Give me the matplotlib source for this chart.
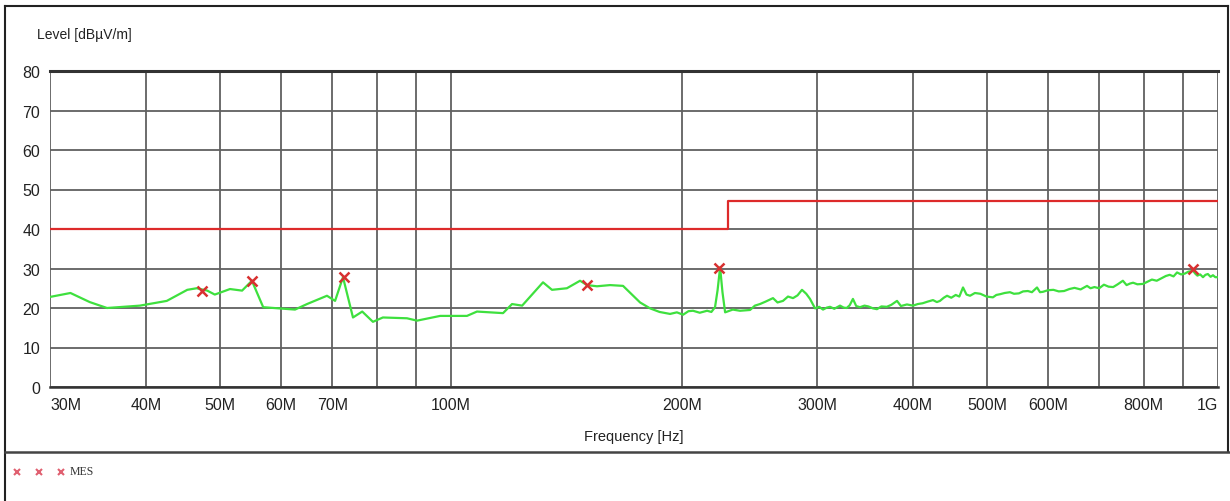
#!/usr/bin/env python3
"""Radiated emission scan 30 MHz - 1 GHz with limit line and MES markers."""

import matplotlib
matplotlib.use("Agg")
import matplotlib.pyplot as plt
from matplotlib.lines import Line2D
import numpy as np

plt.rcParams["font.family"] = ["Liberation Sans", "DejaVu Sans"]

# measured trace, frequency in MHz, level in dBuV/m
TRACE_MHZ = [
    30.0, 31.9, 33.8, 35.6, 39.3, 42.6, 45.3, 46.6, 48.1, 49.2, 51.5, 53.4,
    55.0, 56.9, 59.8, 62.6, 64.9, 68.9, 70.6, 72.3, 74.5, 76.6, 79.1, 81.5,
    87.6, 90.3, 96.8, 104.9, 108.1, 116.9, 120.1, 123.8, 131.8, 135.4, 141.6,
    147.3, 150.4, 155.0, 161.2, 167.6, 176.4, 181.8, 187.0, 193.0, 197.0,
    200.7, 204.0, 206.8, 211.0, 215.7, 218.5, 220.9, 222.6, 224.3, 225.9,
    227.7, 233.0, 238.1, 245.4, 249.0, 252.8, 257.0, 262.9, 266.5, 270.9,
    275.0, 279.2, 283.0, 286.8, 290.5, 293.8, 298.3, 302.0, 305.5, 309.0,
    312.0, 316.0, 321.5, 325.0, 328.0, 331.0, 334.2, 337.5, 341.3, 346.0,
    350.0, 355.0, 359.2, 364.0, 370.0, 375.0, 381.5, 386.0, 393.0, 400.3,
    406.0, 412.0, 418.0, 425.0, 430.0, 434.0, 439.0, 443.3, 449.0, 455.0,
    460.0, 465.1, 470.0, 475.0, 482.0, 490.0, 499.0, 508.8, 514.0, 520.0,
    527.0, 535.5, 542.0, 550.0, 557.0, 565.0, 572.0, 580.8, 586.0, 591.3,
    600.0, 610.0, 620.0, 630.0, 640.0, 650.0, 662.0, 674.9, 682.0, 690.0,
    700.0, 710.0, 720.0, 730.0, 740.0, 751.6, 760.0, 768.0, 775.0, 785.0,
    798.4, 808.0, 820.0, 832.0, 845.0, 855.0, 865.0, 875.0, 884.3, 895.0,
    905.0, 915.0, 927.8, 935.0, 940.0, 948.0, 955.9, 963.0, 970.0, 978.0,
    985.0, 992.0, 1000.0,
]
TRACE_DB = [
    22.8, 23.8, 21.5, 20.0, 20.6, 21.8, 24.6, 25.0, 24.4, 23.4, 24.8, 24.4,
    26.9, 20.2, 19.9, 19.6, 21.0, 23.1, 21.8, 27.8, 17.6, 19.1, 16.5, 17.6,
    17.4, 16.8, 18.0, 18.0, 19.1, 18.7, 21.0, 20.6, 26.5, 24.6, 25.0,
    26.9, 25.8, 25.5, 25.8, 25.6, 21.4, 19.9, 19.0, 18.5, 18.9,
    18.3, 19.2, 19.3, 18.8, 19.3, 19.0, 20.2, 24.5, 30.3, 24.0,
    18.9, 19.6, 19.3, 19.5, 20.6, 21.0, 21.6, 22.5, 21.4, 21.8,
    22.9, 22.5, 23.2, 24.6, 23.6, 22.3, 19.9, 20.3, 19.6, 20.1,
    20.3, 19.8, 20.6, 20.1, 20.0, 20.7, 22.3, 20.5, 20.2, 20.6,
    20.4, 19.9, 19.7, 20.4, 20.3, 20.8, 21.8, 20.5, 20.9, 20.6,
    21.0, 21.2, 21.6, 22.0, 21.5, 21.8, 22.6, 23.1, 22.6, 23.3,
    22.9, 25.2, 23.4, 23.1, 23.8, 23.6, 22.9, 22.7, 23.3, 23.5,
    23.8, 24.0, 23.6, 23.7, 24.2, 24.3, 24.0, 25.2, 24.0, 24.1,
    24.5, 24.6, 24.2, 24.3, 24.8, 25.1, 24.7, 25.6, 25.0, 25.3,
    25.0, 25.9, 25.4, 25.3, 26.0, 26.9, 25.8, 26.2, 26.4, 26.0,
    26.1, 26.6, 27.2, 26.9, 27.6, 28.1, 28.4, 28.0, 29.0, 28.5,
    28.7, 29.2, 29.4, 28.6, 28.2, 28.5, 27.8, 28.4, 28.6, 27.9,
    28.3, 27.8, 27.8,
]

# MES peak markers
PEAK_MHZ = [47.3, 55.0, 72.5, 150.4, 223.6, 927.8]
PEAK_DB = [24.3, 26.8, 27.8, 25.8, 30.1, 29.9]

# limit line (step at 230 MHz)
LIMIT_MHZ = [30.0, 230.0, 230.0, 1000.0]
LIMIT_DB = [40.0, 40.0, 47.0, 47.0]

Y_TICKS = [0, 10, 20, 30, 40, 50, 60, 70, 80]
X_TICKS_MHZ = [30, 40, 50, 60, 70, 100, 200, 300, 400, 500, 600, 800, 1000]
X_TICK_LABELS = ["30M", "40M", "50M", "60M", "70M", "100M", "200M", "300M",
                 "400M", "500M", "600M", "800M", "1G"]
GRID_MHZ = [30, 40, 50, 60, 70, 80, 90, 100, 200, 300, 400, 500, 600, 700,
            800, 900, 1000]

W, H = 1230, 502
fig = plt.figure(figsize=(W / 100, H / 100), dpi=100)
ax = fig.add_axes([50 / W, 1 - 388 / H, (1218 - 50) / W, (388 - 72) / H])

hz = lambda v: np.asarray(v, dtype=float) * 1e6

ax.set_xscale("log")
ax.set_xlim(30e6, 1e9)
ax.set_ylim(0, 80)

grid_c = "#606060"
for g in GRID_MHZ:
    ax.axvline(g * 1e6, color=grid_c, lw=1.3, zorder=1)
for yv in Y_TICKS:
    ax.axhline(yv, color=grid_c, lw=1.3, zorder=1)

ax.plot(hz(LIMIT_MHZ), LIMIT_DB, color="#dd2a2a", lw=1.6, zorder=3)
ax.plot(hz(TRACE_MHZ), TRACE_DB, color="#3ee03e", lw=1.6, zorder=4)
ax.plot(hz(PEAK_MHZ), PEAK_DB, ls="none", marker="x", ms=7, mew=1.8,
        color="#d83030", zorder=5)

ax.minorticks_off()
ax.set_xticks(hz(X_TICKS_MHZ))
ax.set_xticklabels(X_TICK_LABELS, fontsize=11.5)
for lab, t in zip(ax.get_xticklabels(), X_TICK_LABELS):
    if t == "30M":
        lab.set_ha("left")
    elif t == "1G":
        lab.set_ha("right")
ax.set_yticks(Y_TICKS)
ax.set_yticklabels([str(v) for v in Y_TICKS], fontsize=11.5)
ax.tick_params(length=0, pad=7, colors="#222222")

for side in ("left", "right"):
    ax.spines[side].set_visible(False)
ax.spines["top"].set_linewidth(2.2)
ax.spines["top"].set_color("#333333")
ax.spines["bottom"].set_linewidth(1.8)
ax.spines["bottom"].set_color("#333333")

fig.text(37 / W, 1 - 35 / H, "Level [dB\u00b5V/m]", fontsize=10, va="center",
         ha="left", color="#222222")
fig.text(634 / W, 1 - 437 / H, "Frequency [Hz]", fontsize=10.5, va="center",
         ha="center", color="#222222")

# outer frame and legend separator
frame = dict(color="#222222", lw=1.5, transform=fig.transFigure)
fig.add_artist(Line2D([5 / W, 1228 / W], [1 - 7 / H, 1 - 7 / H], **frame))
fig.add_artist(Line2D([5 / W, 5 / W], [1 - 7 / H, 0], **frame))
fig.add_artist(Line2D([1228 / W, 1228 / W], [1 - 7 / H, 1 - 453 / H], **frame))
fig.add_artist(Line2D([5 / W, 1230 / W], [1 - 453 / H, 1 - 453 / H],
                      color="#444444", lw=1.8, transform=fig.transFigure))

for lx in (17, 39, 61):
    fig.add_artist(Line2D([lx / W], [1 - 473 / H], ls="none", marker="x",
                          ms=5, mew=1.5, color="#e06070",
                          transform=fig.transFigure))
fig.text(70 / W, 1 - 472 / H, "MES", fontsize=8.5, va="center", ha="left",
         family=["Liberation Serif", "DejaVu Serif"], color="#333333")

fig.savefig("out.png", dpi=100)
